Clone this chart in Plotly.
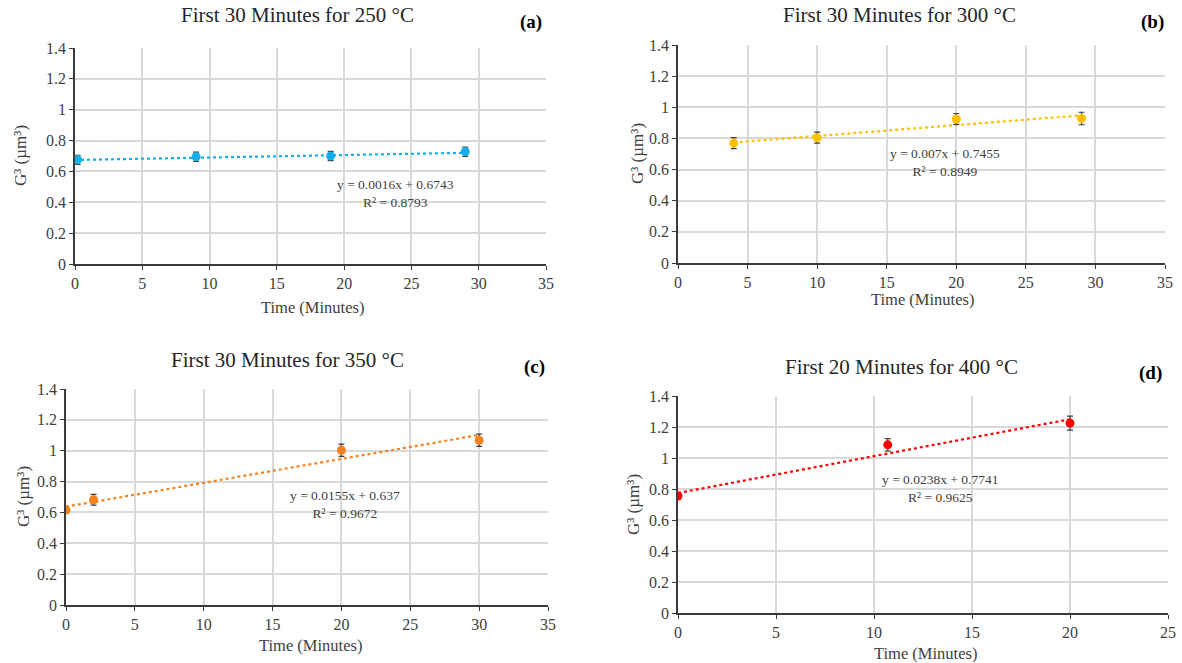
import plotly.graph_objects as go

W, H = 1182, 663

# ---- data ----
titles = ["First 30 Minutes for 250 °C", "First 30 Minutes for 300 °C",
          "First 30 Minutes for 350 °C", "First 20 Minutes for 400 °C"]
labels = ["(a)", "(b)", "(c)", "(d)"]
colors = ["#14AEEA", "#FFC000", "#F5821F", "#FF0000"]

time_a = [0.2, 9, 19, 29]
g3_a = [0.675, 0.695, 0.700, 0.728]
err_a = [0.03, 0.03, 0.03, 0.03]

time_b = [4, 10, 20, 29]
g3_b = [0.770, 0.805, 0.925, 0.928]
err_b = [0.035, 0.035, 0.035, 0.04]

time_c = [0, 2, 20, 30]
g3_c = [0.615, 0.682, 1.003, 1.068]
err_c = [0.02, 0.035, 0.04, 0.04]

time_d = [0, 10.7, 20]
g3_d = [0.755, 1.085, 1.225]
err_d = [0.02, 0.04, 0.045]

slopes = [0.0016, 0.007, 0.0155, 0.0238]
intercepts = [0.6743, 0.7455, 0.637, 0.7741]
eq_texts = ["y = 0.0016x + 0.6743<br>R² = 0.8793",
            "y = 0.007x + 0.7455<br>R² = 0.8949",
            "y = 0.0155x + 0.637<br>R² = 0.9672",
            "y = 0.0238x + 0.7741<br>R² = 0.9625"]
trend_x = [[0, 29], [4, 29], [0, 30], [0, 20]]
x_max = [35, 35, 35, 25]
y_ticks = [0, 0.2, 0.4, 0.6, 0.8, 1, 1.2, 1.4]
y_ticklabels = ["0", "0.2", "0.4", "0.6", "0.8", "1", "1.2", "1.4"]

series = [(time_a, g3_a, err_a), (time_b, g3_b, err_b),
          (time_c, g3_c, err_c), (time_d, g3_d, err_d)]

# ---- layout (pixel boxes: left, right, top, bottom) ----
boxes = [(75, 546, 48, 264), (678, 1165, 45, 263),
         (66, 548, 389, 605), (678, 1168, 396, 613)]
title_pos = [(297, 15), (900, 15), (287, 360), (901, 367)]
label_pos = [(531, 22), (1152, 22), (534, 367), (1150, 373)]
xtitle_pos = [(312, 307), (922, 300), (310, 645), (925, 653)]
ytitle_pos = [(20, 156), (637, 154), (23, 497), (633, 505)]
eq_pos = [(395, 193), (945, 162), (345, 504), (940, 488)]

def px(x):
    return x / W

def py(y):
    return 1 - y / H

SERIF = "Liberation Serif, Times New Roman, serif"
fig = go.Figure()
annotations = []

for i in range(4):
    xs, ys, es = series[i]
    ax = "" if i == 0 else str(i + 1)
    xa, ya = "x" + ax, "y" + ax
    fig.add_trace(go.Scatter(
        x=trend_x[i],
        y=[slopes[i] * t + intercepts[i] for t in trend_x[i]],
        mode="lines", line=dict(color=colors[i], width=2.2, dash="dot"),
        xaxis=xa, yaxis=ya, showlegend=False, hoverinfo="skip"))
    fig.add_trace(go.Scatter(
        x=xs, y=ys, mode="markers",
        marker=dict(color=colors[i], size=9),
        error_y=dict(type="data", array=es, visible=True,
                     color="#404040", thickness=1.2, width=3),
        xaxis=xa, yaxis=ya, showlegend=False))

    l, r, t, b = boxes[i]
    fig.layout["xaxis" + ax] = dict(
        domain=[px(l), px(r)], range=[0, x_max[i]], dtick=5, tick0=0,
        anchor=ya)
    fig.layout["yaxis" + ax] = dict(
        domain=[py(b), py(t)], range=[0, 1.4], tickvals=y_ticks,
        ticktext=y_ticklabels, anchor=xa)

    tx, ty = title_pos[i]
    annotations.append(dict(x=px(tx), y=py(ty), xref="paper", yref="paper",
                            text=titles[i], showarrow=False,
                            font=dict(family=SERIF, size=21, color="#262626"),
                            xanchor="center", yanchor="middle"))
    lx, ly = label_pos[i]
    annotations.append(dict(x=px(lx), y=py(ly), xref="paper", yref="paper",
                            text="<b>" + labels[i] + "</b>", showarrow=False,
                            font=dict(family=SERIF, size=19, color="#000000"),
                            xanchor="center", yanchor="middle"))
    xx, xy = xtitle_pos[i]
    annotations.append(dict(x=px(xx), y=py(xy), xref="paper", yref="paper",
                            text="Time (Minutes)", showarrow=False,
                            font=dict(family=SERIF, size=16.5, color="#404040"),
                            xanchor="center", yanchor="middle"))
    yx, yy = ytitle_pos[i]
    annotations.append(dict(x=px(yx), y=py(yy), xref="paper", yref="paper",
                            text="G³ (µm³)", showarrow=False, textangle=-90,
                            font=dict(family=SERIF, size=17, color="#404040"),
                            xanchor="center", yanchor="middle"))
    ex, ey = eq_pos[i]
    annotations.append(dict(x=px(ex), y=py(ey), xref="paper", yref="paper",
                            text=eq_texts[i], showarrow=False, align="center",
                            font=dict(family=SERIF, size=13.5, color="#404040"),
                            xanchor="center", yanchor="middle"))

fig.update_xaxes(showline=True, linecolor="#3a3a3a", linewidth=1.5,
                 ticks="outside", ticklen=4, tickcolor="#3a3a3a",
                 showgrid=True, gridcolor="#D9D9D9", gridwidth=1.5,
                 zeroline=False, automargin=False,
                 tickfont_family=SERIF, tickfont_size=16,
                 tickfont_color="#404040")
fig.update_yaxes(showline=True, linecolor="#3a3a3a", linewidth=1.5,
                 ticks="outside", ticklen=4, tickcolor="#3a3a3a",
                 showgrid=True, gridcolor="#D9D9D9", gridwidth=1.5,
                 zeroline=False, automargin=False,
                 tickfont_family=SERIF, tickfont_size=16,
                 tickfont_color="#404040")

fig.update_layout(width=W, height=H, margin=dict(l=0, r=0, t=0, b=0, pad=0),
                  font=dict(family=SERIF),
                  paper_bgcolor="white", plot_bgcolor="white",
                  annotations=annotations, showlegend=False)

fig.write_html("out.html", config={"displayModeBar": False},
               post_script="document.body.style.margin='0';"
                           "document.body.style.overflow='hidden';")
